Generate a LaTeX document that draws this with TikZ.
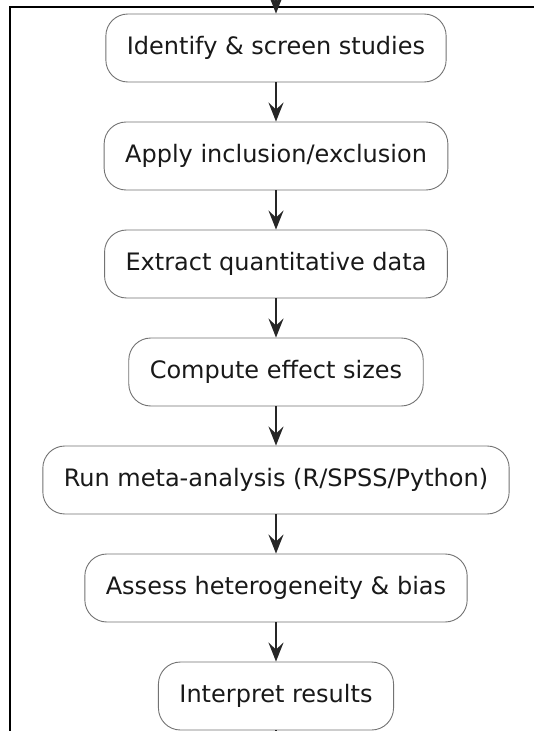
\documentclass[tikz,border=0pt]{standalone}
\usepackage{fontspec}
\setmainfont{DejaVu Sans}
\usetikzlibrary{arrows.meta}

\tikzset{
  stage/.style={draw=black!55, line width=0.9pt, rounded corners=22pt, fill=white,
    inner xsep=21pt, minimum height=68pt, text=black!90,
    font=\fontsize{24}{28}\selectfont},
  flow/.style={line width=1.7pt, draw=black!85,
    -{Stealth[length=19pt,width=15pt,inset=7pt]}}
}

\begin{document}
\begin{tikzpicture}[x=1pt,y=-1pt]
\useasboundingbox (0,0) rectangle (534,731);
\fill[white] (0,0) rectangle (534,731);
\draw[line width=1.7pt] (560,7) -- (10,7) -- (10,760);
\foreach \name/\txt [count=\i from 0] in {
  ident/{Identify \& screen studies},
  apply/{Apply inclusion/exclusion},
  extract/{Extract quantitative data},
  compute/{Compute effect sizes},
  runma/{Run meta-analysis (R/SPSS/Python)},
  assess/{Assess heterogeneity \& bias},
  interp/{Interpret results}}{
  \node[stage] (\name) at (276,48+108*\i) {\txt};
}
\coordinate (entry) at (276,-40);
\coordinate (exit) at (276,790);
\draw[flow] (entry) -- (ident.north);
\foreach \a/\b in {ident/apply,apply/extract,extract/compute,compute/runma,runma/assess,assess/interp}
  \draw[flow] (\a) -- (\b);
\draw[line width=1.7pt, draw=black!85] (interp) -- (exit);
\end{tikzpicture}
\end{document}
